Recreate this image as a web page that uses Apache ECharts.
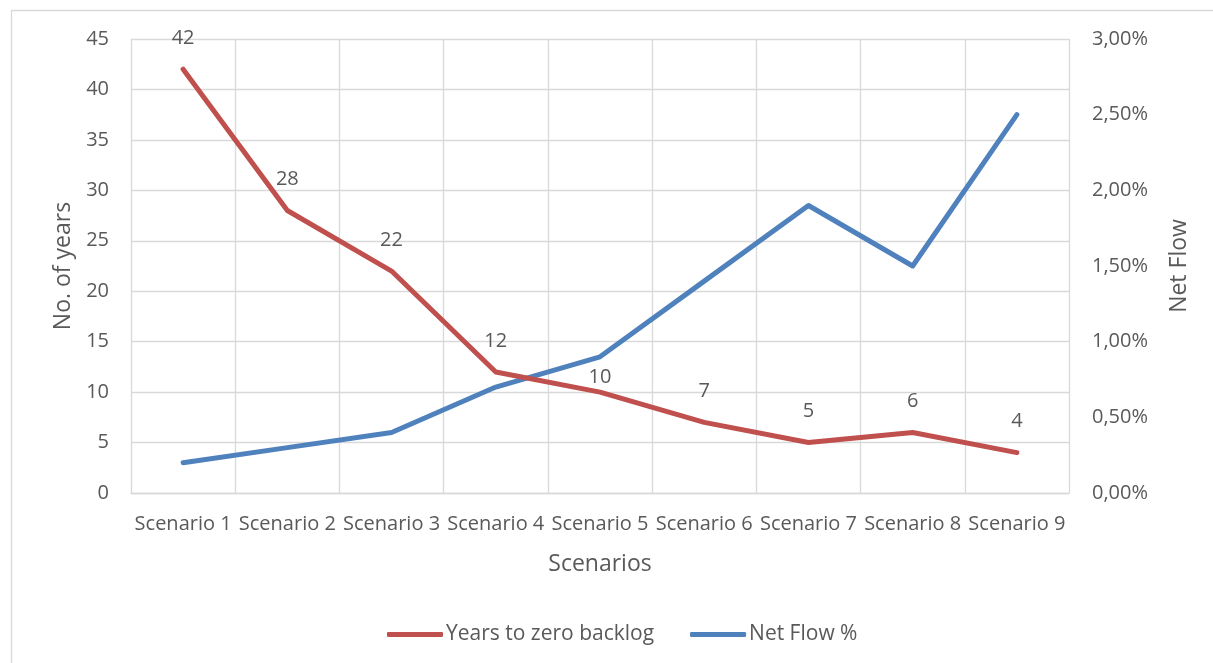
<!DOCTYPE html>
<html>
<head>
<meta charset="utf-8">
<script src="https://cdn.jsdelivr.net/npm/echarts@6/dist/echarts.min.js"></script>
<style>
  html, body { margin: 0; padding: 0; background: #fff; }
  #chart { width: 1213px; height: 663px; }
</style>
</head>
<body>
<div id="chart"></div>
<script>
// Scenario comparison: years until the backlog is cleared vs. net flow
const scenarios = ['Scenario 1', 'Scenario 2', 'Scenario 3', 'Scenario 4', 'Scenario 5',
                   'Scenario 6', 'Scenario 7', 'Scenario 8', 'Scenario 9'];
const yearsToZeroBacklog = [42, 28, 22, 12, 10, 7, 5, 6, 4];
const netFlowPct = [0.2, 0.3, 0.4, 0.7, 0.9, 1.4, 1.9, 1.5, 2.5];

const FONT = '"Open Sans", "Noto Sans", sans-serif';
const TEXT = '#595959';
const GRID = '#d9d9d9';
const RED = '#c0504d';
const BLUE = '#4f81bd';

const pctLabel = v => v.toFixed(2).replace('.', ',') + '%';

// The label of Scenario 5 sits closer to its point so it stays clear of the blue line
const yearsData = yearsToZeroBacklog.map((v, i) =>
  scenarios[i] === 'Scenario 5' ? { value: v, label: { distance: 4 } } : v);

const chart = echarts.init(document.getElementById('chart'), null, { renderer: 'canvas' });
chart.setOption({
  animation: false,
  backgroundColor: '#fff',
  textStyle: { fontFamily: FONT, color: TEXT },
  graphic: [{
    type: 'rect',
    shape: { x: 11.5, y: 10.5, width: 1400, height: 900 },
    style: { fill: 'none', stroke: GRID, lineWidth: 1.3 },
    silent: true
  }],
  grid: { left: 131, right: 144, top: 39, bottom: 170, containLabel: false },
  legend: {
    bottom: 13,
    left: 382,
    itemWidth: 56,
    itemHeight: 5,
    itemGap: 36,
    icon: 'roundRect',
    textStyle: { fontFamily: FONT, fontSize: 21, color: TEXT, padding: [0, 0, 0, -2] },
    data: [
      { name: 'Years to zero backlog', itemStyle: { color: RED } },
      { name: 'Net Flow %', itemStyle: { color: BLUE } }
    ]
  },
  xAxis: {
    type: 'category',
    data: scenarios,
    boundaryGap: true,
    name: 'Scenarios',
    nameLocation: 'middle',
    nameGap: 60,
    nameTextStyle: { fontFamily: FONT, fontSize: 23, color: TEXT },
    axisLine: { show: true, lineStyle: { color: GRID, width: 1.3 } },
    axisTick: { show: false },
    axisLabel: { interval: 0, fontFamily: FONT, fontSize: 20, color: TEXT, margin: 21 },
    splitLine: { show: true, interval: 0, lineStyle: { color: GRID, width: 1.3 } }
  },
  yAxis: [{
    type: 'value',
    min: 0, max: 45, interval: 5,
    name: 'No. of years',
    nameLocation: 'middle',
    nameGap: 56,
    nameRotate: 90,
    nameTextStyle: { fontFamily: FONT, fontSize: 23, color: TEXT },
    axisLine: { show: false },
    axisTick: { show: false },
    axisLabel: { fontFamily: FONT, fontSize: 20, color: TEXT, margin: 22 },
    splitLine: { show: true, lineStyle: { color: GRID, width: 1.3 } }
  }, {
    type: 'value',
    position: 'right',
    min: 0, max: 3, interval: 0.5,
    name: 'Net Flow',
    nameLocation: 'middle',
    nameGap: 99,
    nameRotate: 90,
    nameTextStyle: { fontFamily: FONT, fontSize: 23, color: TEXT },
    axisLine: { show: false },
    axisTick: { show: false },
    axisLabel: { fontFamily: FONT, fontSize: 20, color: TEXT, margin: 23, formatter: pctLabel },
    splitLine: { show: false }
  }],
  series: [{
    name: 'Years to zero backlog',
    type: 'line',
    yAxisIndex: 0,
    data: yearsData,
    symbol: 'circle',
    symbolSize: 2,
    showSymbol: true,
    color: RED,
    itemStyle: { color: RED },
    lineStyle: { color: RED, width: 5, cap: 'round', join: 'round' },
    label: {
      show: true, position: 'top', distance: 20,
      fontFamily: FONT, fontSize: 20, color: TEXT
    },
    labelLayout: { hideOverlap: false },
    z: 3
  }, {
    name: 'Net Flow %',
    type: 'line',
    yAxisIndex: 1,
    data: netFlowPct,
    symbol: 'none',
    color: BLUE,
    lineStyle: { color: BLUE, width: 5, cap: 'round', join: 'round' },
    z: 2
  }]
});
</script>
</body>
</html>
